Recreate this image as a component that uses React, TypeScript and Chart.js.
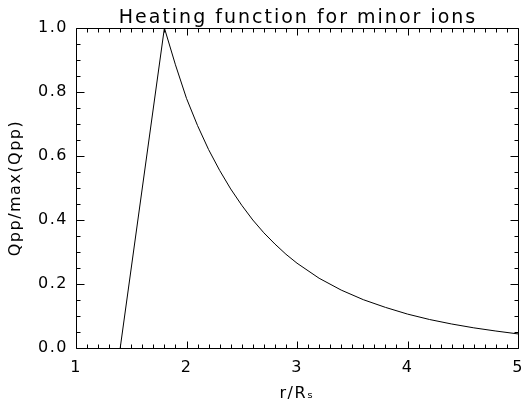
import React, { useEffect, useRef } from 'react';
import { Chart, registerables } from 'chart.js';

Chart.register(...registerables);

// r / R_s values
const radius = [1.4, 1.8, 1.9, 2.0, 2.1, 2.2, 2.3, 2.4, 2.5, 2.6, 2.7, 2.8, 2.9, 3.0, 3.2, 3.4, 3.6, 3.8, 4.0, 4.2, 4.4, 4.6, 4.8, 5.0];
// Qpp / max(Qpp)
const qppNorm = [0.0, 1.0, 0.885, 0.78, 0.695, 0.62, 0.555, 0.497, 0.446, 0.4, 0.36, 0.325, 0.293, 0.265, 0.218, 0.181, 0.151, 0.127, 0.106, 0.089, 0.075, 0.063, 0.053, 0.044];

const xTickLabels = ['1', '2', '3', '4', '5'];
const yTickLabels = ['0.0', '0.2', '0.4', '0.6', '0.8', '1.0'];

const TITLE = 'Heating function for minor ions';
const X_TITLE = 'r/R\u209B';
const Y_TITLE = 'Qpp/max(Qpp)';

const FONT = "'DejaVu Sans', sans-serif";

const boxTicksPlugin = {
  id: 'boxTicks',
  beforeUpdate(chart: any) {
    chart.ctx.letterSpacing = '1.5px';
  },
  beforeDraw(chart: any) {
    chart.ctx.letterSpacing = '1.5px';
  },
  afterDraw(chart: any) {
    const { ctx, chartArea: a, scales } = chart;
    const xs = scales.x;
    const ys = scales.y;
    ctx.save();
    ctx.strokeStyle = '#000';
    ctx.lineWidth = 1;
    const L = Math.round(a.left) + 0.5;
    const R = Math.round(a.right) + 0.5;
    const T = Math.round(a.top) + 0.5;
    const B = Math.round(a.bottom) + 0.5;
    ctx.beginPath();
    ctx.rect(L, T, R - L, B - T);
    for (let i = 0; i <= 40; i++) {
      const v = 1 + i * 0.1;
      const px = Math.round(xs.getPixelForValue(v)) + 0.5;
      const len = i % 10 === 0 ? 7 : 4;
      ctx.moveTo(px, B);
      ctx.lineTo(px, B - len);
      ctx.moveTo(px, T);
      ctx.lineTo(px, T + len);
    }
    for (let i = 0; i <= 20; i++) {
      const v = i * 0.05;
      const py = Math.round(ys.getPixelForValue(v)) + 0.5;
      const len = i % 4 === 0 ? 8 : 4;
      ctx.moveTo(L, py);
      ctx.lineTo(L + len, py);
      ctx.moveTo(R, py);
      ctx.lineTo(R - len, py);
    }
    ctx.stroke();

    // title, centred over the plot box
    ctx.letterSpacing = '2px';
    ctx.fillStyle = '#000';
    ctx.font = `normal 19px ${FONT}`;
    ctx.textAlign = 'center';
    ctx.textBaseline = 'alphabetic';
    ctx.fillText(TITLE, (a.left + a.right) / 2 + 1, a.top - 5);
    ctx.restore();
  },
};

export default function App() {
  const ref = useRef<HTMLCanvasElement | null>(null);

  useEffect(() => {
    document.body.style.margin = '0';
    const canvas = ref.current!;
    const points = radius.map((r, i) => ({ x: r, y: qppNorm[i] }));
    const chart = new Chart(canvas, {
      type: 'line',
      data: {
        datasets: [
          {
            data: points,
            borderColor: '#000',
            borderWidth: 1,
            pointRadius: 0,
            tension: 0,
            fill: false,
          },
        ],
      },
      options: {
        responsive: false,
        animation: false,
        layout: { padding: { left: 0, right: 5, top: 28, bottom: 0 } },
        plugins: {
          legend: { display: false },
          tooltip: { enabled: false },
          title: { display: false },
        },
        scales: {
          x: {
            type: 'linear',
            min: 1,
            max: 5,
            afterFit: (s: any) => {
              s.height = 57;
              s.paddingLeft = 0;
              s.paddingRight = 0;
            },
            afterBuildTicks: (s: any) => {
              s.ticks = xTickLabels.map((t) => ({ value: Number(t) }));
            },
            ticks: {
              color: '#000',
              font: { family: FONT, size: 16 },
              padding: 10,
              maxRotation: 0,
              callback: (v: any) => xTickLabels.find((t) => Number(t) === v) ?? '',
            },
            grid: { display: false, drawTicks: false },
            border: { display: false },
            title: {
              display: true,
              text: X_TITLE,
              color: '#000',
              font: { family: FONT, size: 16 },
              padding: { top: 2, bottom: 2 },
            },
          },
          y: {
            type: 'linear',
            min: 0,
            max: 1,
            afterFit: (s: any) => {
              s.width = 76;
              s.paddingTop = 0;
              s.paddingBottom = 0;
            },
            afterBuildTicks: (s: any) => {
              s.ticks = yTickLabels.map((t) => ({ value: Number(t) }));
            },
            ticks: {
              color: '#000',
              font: { family: FONT, size: 16 },
              padding: 8,
              callback: (v: any) => Number(v).toFixed(1),
            },
            grid: { display: false, drawTicks: false },
            border: { display: false },
            title: {
              display: true,
              text: Y_TITLE,
              color: '#000',
              font: { family: FONT, size: 16 },
              padding: { top: 6, bottom: 0 },
            },
          },
        },
      },
      plugins: [boxTicksPlugin],
    } as any);
    return () => chart.destroy();
  }, []);

  return <canvas ref={ref} width={523} height={405} style={{ display: 'block' }} />;
}
